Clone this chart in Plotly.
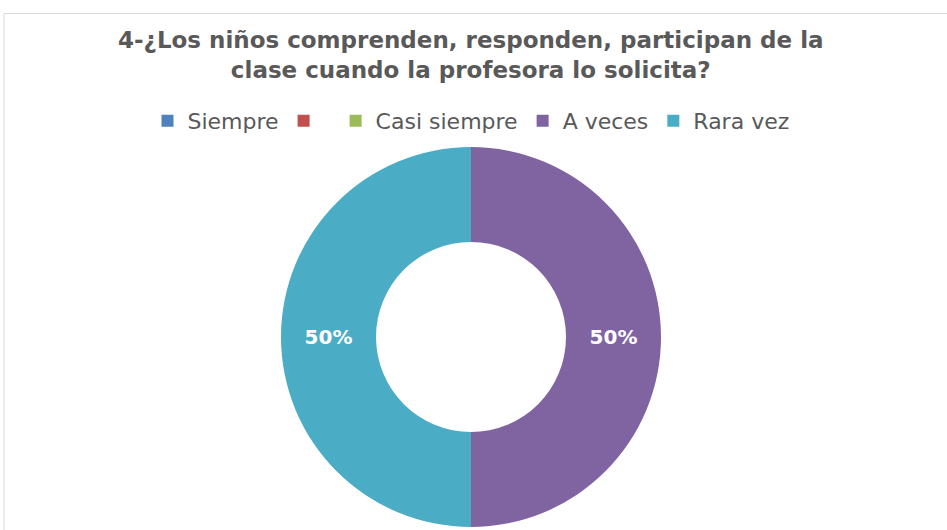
import plotly.graph_objects as go

labels = ["Siempre", " ", "Casi siempre", "A veces", "Rara vez"]
values = [0, 0, 0, 50, 50]
colors = ["#4F81BD", "#C0504D", "#9BBB59", "#8064A2", "#4BACC6"]
title_text = "4-¿Los niños comprenden, responden, participan de la<br>clase cuando la profesora lo solicita?"

W, H = 947, 530
cx, top, bottom = 471, 147, 527
r = (bottom - top) / 2
FONT = "DejaVu Sans"

fig = go.Figure(go.Pie(
    labels=labels, values=values, sort=False, direction="clockwise", rotation=0,
    hole=0.5, marker=dict(colors=colors, line=dict(width=0)),
    textinfo="percent", texttemplate="%{percent:.0%}", textposition="inside",
    insidetextorientation="horizontal",
    textfont=dict(family=FONT, size=20, color="white", weight="bold"),
    domain=dict(x=[(cx - r) / W, (cx + r) / W], y=[(H - bottom) / H, (H - top) / H]),
    hoverinfo="label+percent",
))

fig.update_layout(
    width=W, height=H,
    margin=dict(l=0, r=0, t=0, b=0),
    paper_bgcolor="white",
    showlegend=True,
    legend=dict(orientation="h", x=cx / W, xanchor="center", y=(H - 121) / H, yanchor="middle",
                font=dict(family=FONT, size=22, color="#595959"), itemwidth=30,
                traceorder="normal"),
    annotations=[dict(text=title_text, x=cx / W, y=(H - 55) / H, xref="paper", yref="paper",
                      xanchor="center", yanchor="middle", showarrow=False,
                      font=dict(family=FONT, size=23, color="#595959", weight="bold"))],
    shapes=[dict(type="rect", xref="paper", yref="paper", x0=4 / W, x1=1.05, y0=-0.05, y1=(H - 13.5) / H,
                 line=dict(color="#D9D9D9", width=1), fillcolor="rgba(0,0,0,0)", layer="below")],
)

fig.write_html("out.html", config={"displayModeBar": False},
               post_script="document.body.style.margin='0';")
